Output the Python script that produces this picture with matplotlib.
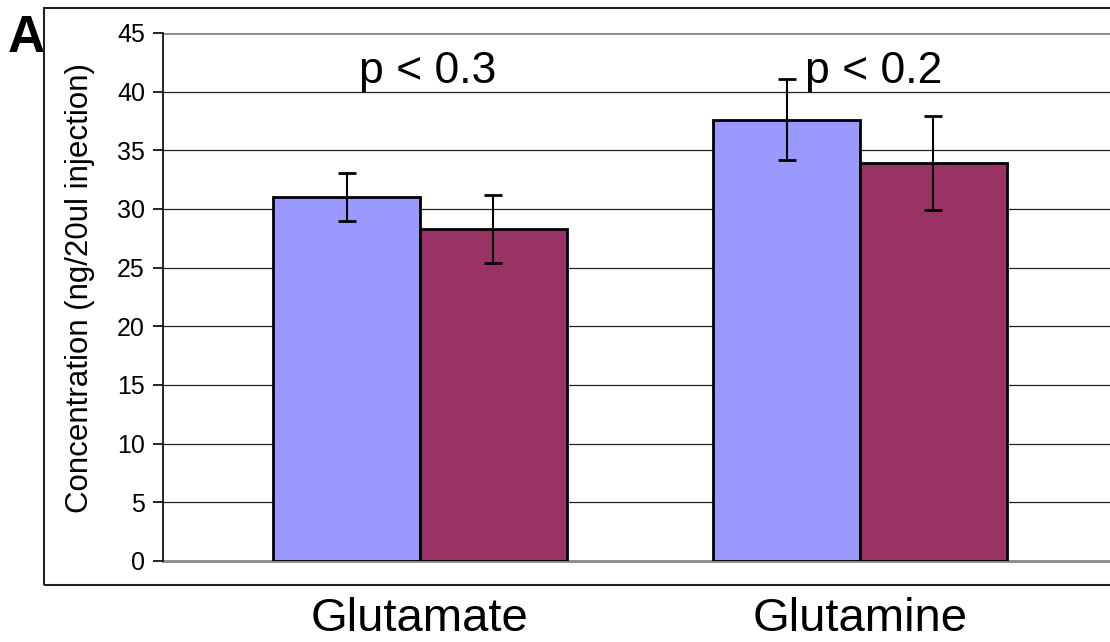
import matplotlib.pyplot as plt
from matplotlib.patches import Rectangle
import numpy as np

# valeurs
categories = ['Glutamate', 'Glutamine']
bleu = [31.05, 37.6]
bleu_err = [2.05, 3.45]
bordeaux = [28.3, 33.9]
bordeaux_err = [2.9, 4.0]
p_labels = ['p < 0.3', 'p < 0.2']
yticks = [0, 5, 10, 15, 20, 25, 30, 35, 40, 45]

plt.rcParams['font.family'] = ['Liberation Sans', 'DejaVu Sans']

W, H = 1110, 642
fig = plt.figure(figsize=(W / 100, H / 100), dpi=100)

# cadre extérieur
cadre = Rectangle((44 / W, 57 / H), 1.2, (585 - 8) / H, transform=fig.transFigure,
                  fill=False, edgecolor='#222222', linewidth=1.5, zorder=0)
fig.patches.append(cadre)

ax = fig.add_axes([163 / W, (H - 561) / H, (1117 - 163) / W, (561 - 33) / H])
ax.patch.set_alpha(0)

x = np.arange(len(categories))
w = 0.333
ax.bar(x - w / 2, bleu, w, color='#9999FF', edgecolor='black', linewidth=2, zorder=3)
ax.bar(x + w / 2, bordeaux, w, color='#993366', edgecolor='black', linewidth=2, zorder=3)
ax.errorbar(x - w / 2, bleu, yerr=bleu_err, fmt='none', ecolor='black',
            elinewidth=1.5, capsize=6.5, capthick=2, zorder=4)
ax.errorbar(x + w / 2, bordeaux, yerr=bordeaux_err, fmt='none', ecolor='black',
            elinewidth=1.5, capsize=6.5, capthick=2, zorder=4)

# lignes de la grille
for v in yticks[1:-1]:
    ax.axhline(v, color='#222222', linewidth=0.9, zorder=1)
ax.axhline(45, color='#888888', linewidth=2, zorder=1)

for i, txt in enumerate(p_labels):
    ax.text(x[i] + [0.018, 0.03][i], 40.7, txt, ha='center', va='baseline', fontsize=32)

ax.set_xlim(-0.584, 1.584)
ax.set_ylim(0, 45)
ax.set_yticks(yticks)
ax.tick_params(axis='y', labelsize=18, length=7, width=1.2, pad=6, direction='out')
ax.set_xticks(x)
ax.set_xticklabels(categories, fontsize=34)
ax.tick_params(axis='x', length=0, pad=26)

for s in ['top', 'right']:
    ax.spines[s].set_visible(False)
ax.spines['left'].set_linewidth(1.2)
ax.spines['bottom'].set_color('#888888')
ax.spines['bottom'].set_linewidth(2)
ax.spines['bottom'].set_zorder(2)

fig.text(80 / W, 1 - 288 / H, 'Concentration (ng/20ul injection)', rotation=90,
         ha='center', va='center', fontsize=22.5)
fig.text(8 / W, 1 - 52 / H, 'A', fontsize=37, fontweight='bold', ha='left', va='baseline')

fig.savefig('out.png', dpi=100)
